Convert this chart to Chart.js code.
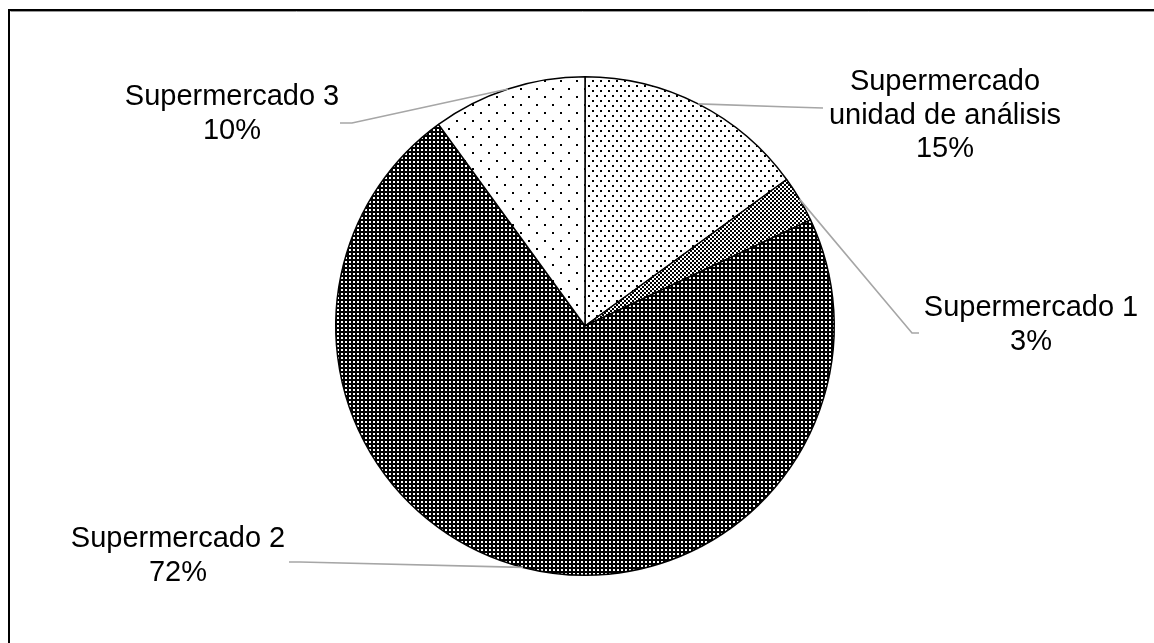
<!DOCTYPE html>
<html>
<head>
<meta charset="utf-8">
<script src="https://cdn.jsdelivr.net/npm/chart.js@4.4.1/dist/chart.umd.min.js"></script>
<style>
  html, body { margin: 0; padding: 0; background: #fff; }
  #wrap { position: relative; width: 1154px; height: 643px; }
  canvas { display: block; }
</style>
</head>
<body>
<div id="wrap"><canvas id="c" width="1154" height="643"></canvas></div>
<script>
// ---- Data ----
const categories = ['Supermercado unidad de análisis', 'Supermercado 1', 'Supermercado 2', 'Supermercado 3'];
const labelLines = [['Supermercado', 'unidad de análisis'], ['Supermercado 1'], ['Supermercado 2'], ['Supermercado 3']];
const values = [15, 3, 72, 10];

// ---- Layout for labels (positions only) ----
const labelLayout = [
  { x: 945, y0: 82, leader: [[823, 108], [790, 107]] },
  { x: 1031, y0: 308, leader: [[919, 333], [912, 333]] },
  { x: 178, y0: 539, leader: [[289, 562], [300, 562]] },
  { x: 232, y0: 97, leader: [[340, 123], [352, 123]] }
];
const lineH = 33.5;

// ---- Patterns ----
function makePattern(w, h, bg, fg, dots) {
  const c = document.createElement('canvas');
  c.width = w; c.height = h;
  const x = c.getContext('2d');
  x.fillStyle = bg; x.fillRect(0, 0, w, h);
  x.fillStyle = fg;
  dots.forEach(d => x.fillRect(d[0], d[1], d[2], d[3]));
  return document.getElementById('c').getContext('2d').createPattern(c, 'repeat');
}
const patLight = makePattern(8, 10, '#fff', '#000', [[0, 0, 2, 2], [4, 5, 2, 2]]);
const patChecker = makePattern(4, 4, '#fff', '#000', [[0, 0, 2, 2], [2, 2, 2, 2]]);
const patDark = makePattern(4, 4, '#000', '#fff', [[1, 1, 2, 2]]);
const patSparse = makePattern(16, 16, '#fff', '#000', [[0, 0, 2, 2], [8, 8, 2, 2]]);
const fills = [patLight, patChecker, patDark, patSparse];

// ---- Plugins ----
const framePlugin = {
  id: 'frame',
  afterDraw(chart) {
    const ctx = chart.ctx;
    ctx.save();
    ctx.strokeStyle = '#000';
    ctx.lineWidth = 2;
    ctx.beginPath();
    ctx.moveTo(9, 643);
    ctx.lineTo(9, 10);
    ctx.lineTo(1154, 10);
    ctx.stroke();
    ctx.strokeStyle = '#999';
    ctx.lineWidth = 1;
    ctx.beginPath();
    ctx.moveTo(10.5, 11.5);
    ctx.lineTo(1154, 11.5);
    ctx.stroke();
    ctx.restore();
  }
};

const labelPlugin = {
  id: 'pieLabels',
  afterDatasetsDraw(chart) {
    const ctx = chart.ctx;
    const meta = chart.getDatasetMeta(0);
    const total = values.reduce((a, b) => a + b, 0);
    ctx.save();
    meta.data.forEach((arc, i) => {
      const L = labelLayout[i];
      const p = arc.getProps(['x', 'y', 'startAngle', 'endAngle', 'outerRadius'], true);
      const mid = (p.startAngle + p.endAngle) / 2;
      const ex = p.x + Math.cos(mid) * p.outerRadius;
      const ey = p.y + Math.sin(mid) * p.outerRadius;
      ctx.strokeStyle = '#a6a6a6';
      ctx.lineWidth = 1.6;
      ctx.beginPath();
      ctx.moveTo(L.leader[0][0], L.leader[0][1]);
      ctx.lineTo(L.leader[1][0], L.leader[1][1]);
      ctx.lineTo(ex, ey);
      ctx.stroke();
      const pct = Math.round(values[i] / total * 100) + '%';
      const lines = labelLines[i].concat([pct]);
      ctx.fillStyle = '#000';
      ctx.font = '29px "Liberation Sans", Arial, sans-serif';
      ctx.textAlign = 'center';
      ctx.textBaseline = 'middle';
      lines.forEach((t, k) => ctx.fillText(t, L.x, L.y0 + k * lineH));
    });
    ctx.restore();
  }
};

new Chart(document.getElementById('c'), {
  type: 'pie',
  data: {
    labels: categories,
    datasets: [{
      data: values,
      backgroundColor: fills,
      borderColor: '#000',
      borderWidth: 1.5
    }]
  },
  options: {
    responsive: false,
    animation: false,
    devicePixelRatio: 1,
    layout: { padding: { top: 76, bottom: 67, left: 335, right: 319 } },
    plugins: {
      legend: { display: false },
      tooltip: { enabled: false }
    }
  },
  plugins: [framePlugin, labelPlugin]
});
</script>
</body>
</html>
